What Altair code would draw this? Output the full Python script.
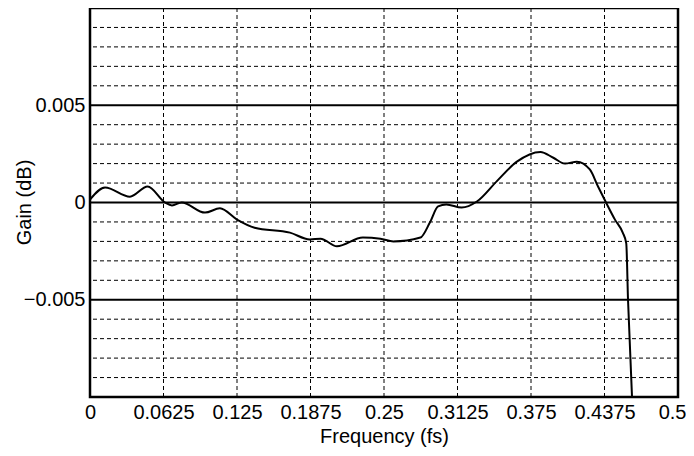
import altair as alt
import pandas as pd

freq = [0.0, 0.0128, 0.034, 0.049, 0.0638, 0.0697, 0.078, 0.0978, 0.1105, 0.125,
        0.140, 0.170, 0.187, 0.196, 0.21, 0.232, 0.247, 0.258, 0.281, 0.289,
        0.296, 0.303, 0.316, 0.329, 0.346, 0.363, 0.383, 0.394, 0.404, 0.414,
        0.425, 0.432, 0.4388, 0.4464, 0.453, 0.456, 0.4575, 0.4609, 0.463]
gain = [0.00015, 0.00077, 0.0003, 0.00082, 0.0, -0.00015, 0.0, -0.00052, -0.0003, -0.00088,
        -0.0013, -0.00155, -0.0019, -0.00186, -0.00225, -0.0018, -0.00186, -0.002, -0.0018, -0.00103,
        -0.0002, -0.0001, -0.00026, 0.00005, 0.0011, 0.0021, 0.0026, 0.0023, 0.002, 0.0021,
        0.0017, 0.00082, 0.0, -0.00088, -0.00155, -0.0021, -0.005, -0.01, -0.012]

x_ticks = [0, 0.0625, 0.125, 0.1875, 0.25, 0.3125, 0.375, 0.4375, 0.5]
y_ticks = [-0.005, 0, 0.005]
y_minor = [-0.009, -0.008, -0.007, -0.006, -0.004, -0.003, -0.002, -0.001,
           0.001, 0.002, 0.003, 0.004, 0.006, 0.007, 0.008, 0.009]
x_grid = [0.0625, 0.125, 0.1875, 0.25, 0.3125, 0.375, 0.4375]

FONT = "Liberation Sans"
FS = 20
xs = alt.Scale(domain=[0, 0.5], nice=False, zero=False)
ys = alt.Scale(domain=[-0.01, 0.01], nice=False, zero=False)

curve_df = pd.DataFrame({"f": freq, "g": gain})

vdash = alt.Chart(pd.DataFrame({"f": x_grid})).mark_rule(
    color="black", strokeWidth=1, strokeDash=[4, 3]
).encode(x=alt.X("f:Q", scale=xs))

hdash = alt.Chart(pd.DataFrame({"g": y_minor})).mark_rule(
    color="black", strokeWidth=1, strokeDash=[4, 3]
).encode(y=alt.Y("g:Q", scale=ys))

hsolid = alt.Chart(pd.DataFrame({"g": y_ticks})).mark_rule(
    color="black", strokeWidth=2
).encode(y=alt.Y("g:Q", scale=ys))

curve = alt.Chart(curve_df).mark_line(
    color="black", strokeWidth=2, interpolate="monotone", clip=True
).encode(
    x=alt.X("f:Q", scale=xs, title="Frequency (fs)",
            axis=alt.Axis(values=x_ticks, format=".4~f", grid=False, domain=False,
                          ticks=False, labelPadding=5,
                          labelAlign={"condition": {"test": "datum.value == 0.5", "value": "right"},
                                      "value": "center"},
                          labelOffset={"condition": {"test": "datum.value == 0.5", "value": 8},
                                       "value": 0},
                          titleY=45, titleBaseline="alphabetic",
                          labelFontSize=FS, titleFontSize=FS, labelFont=FONT,
                          titleFont=FONT, titleFontWeight="normal", labelColor="black",
                          titleColor="black", labelFlush=False)),
    y=alt.Y("g:Q", scale=ys, title="Gain (dB)",
            axis=alt.Axis(values=y_ticks,
                          labelExpr="replace(format(datum.value, '.3~f'), '-', '\u2212')",
                          grid=False, domain=False, ticks=False, labelPadding=5,
                          titleX=-60, titleY=194, titleAngle=270,
                          titleAlign="center", titleBaseline="alphabetic",
                          labelFontSize=FS, titleFontSize=FS,
                          labelFont=FONT, titleFont=FONT, titleFontWeight="normal",
                          labelColor="black", titleColor="black")),
    order=alt.Order("f:Q"),
)

chart = alt.layer(vdash, hdash, hsolid, curve).properties(
    width=588, height=389,
    autosize=alt.AutoSizeParams(type="none"),
    padding={"left": 82, "top": 0, "right": 8, "bottom": 51},
).configure_view(stroke="black", strokeWidth=2.5)

chart.save("out.html", embed_options={"renderer": "svg", "actions": False})
